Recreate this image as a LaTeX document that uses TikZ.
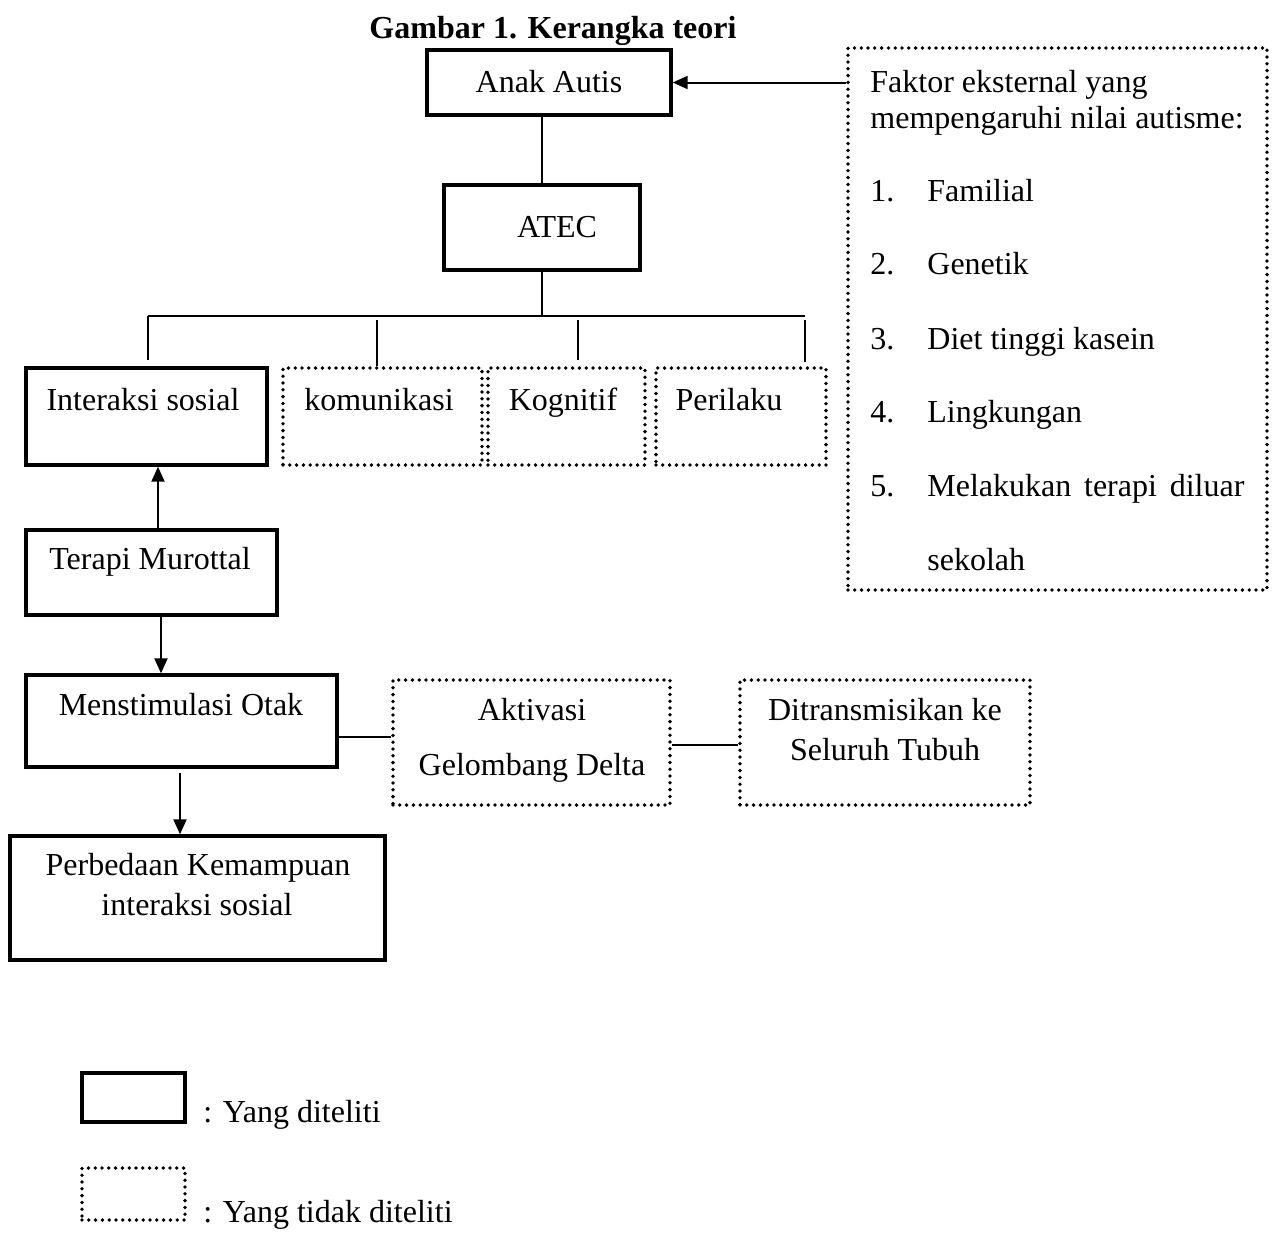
\documentclass[tikz,border=0pt]{standalone}
\usepackage{fontspec}
\setmainfont{Liberation Serif}
\usetikzlibrary{fit,arrows.meta}
\begin{document}
\begin{tikzpicture}[x=0.5pt,y=-0.5pt,
  solidbox/.style={draw, line width=1.7pt, inner sep=0pt},
  dotbox/.style={draw, line width=1.9pt, dash pattern=on 0pt off 3.4pt, line cap=round, inner sep=0pt},
  conn/.style={line width=1pt},
  arr/.style={conn, -{Triangle[length=7.5pt,width=6.5pt]}},
  txt/.style={anchor=base, inner sep=0pt, font=\fontsize{16}{19}\selectfont},
  lt/.style={txt, anchor=base west}]
\useasboundingbox (0,0) rectangle (1275,1233);

% boxes
\node[solidbox, fit={(427,50)(671,115)}] (anak) {};
\node[solidbox, fit={(444,185)(640,270)}] (atec) {};
\node[solidbox, fit={(26,368)(267,465)}] (inter) {};
\node[dotbox, fit={(283,368)(482,465)}] (kom) {};
\node[dotbox, fit={(488,368)(645,465)}] (kog) {};
\node[dotbox, fit={(656,368)(826,465)}] (peri) {};
\node[solidbox, fit={(26,530)(277,615)}] (terapi) {};
\node[solidbox, fit={(26,675)(337,767)}] (menstim) {};
\node[solidbox, fit={(10,836)(385,960)}] (beda) {};
\node[dotbox, fit={(393,680)(670,805)}] (aktiv) {};
\node[dotbox, fit={(740,680)(1030,805)}] (trans) {};
\node[dotbox, fit={(848,48)(1267,590)}] (faktor) {};
\node[solidbox, fit={(82,1073)(185,1122)}] (legA) {};
\node[dotbox, fit={(82,1168)(185,1220)}] (legB) {};

% texts
\node[txt, font=\fontsize{16}{19}\selectfont\bfseries] (title) at (553,38) {Gambar 1. Kerangka teori};
\node[txt] (tanak) at (549,92) {Anak Autis};
\node[txt] (tatec) at (557,237) {ATEC};
\node[txt] (tinter) at (143,410) {Interaksi sosial};
\node[txt] (tkom) at (379,410) {komunikasi};
\node[txt] (tkog) at (563,410) {Kognitif};
\node[txt] (tperi) at (729,410) {Perilaku};
\node[txt] (tterapi) at (150,569) {Terapi Murottal};
\node[txt] (tmenstim) at (181,715) {Menstimulasi Otak};
\node[txt] (tbeda1) at (198,875) {Perbedaan Kemampuan};
\node[txt] (tbeda2) at (197,915) {interaksi sosial};
\node[txt] (taktiv1) at (532,720) {Aktivasi};
\node[txt] (taktiv2) at (532,775) {Gelombang Delta};
\node[txt] (ttrans1) at (885,720) {Ditransmisikan ke};
\node[txt] (ttrans2) at (885,760) {Seluruh Tubuh};

\node[lt] (f1) at (870,92) {Faktor eksternal yang};
\node[lt] (f2) at (870,128) {mempengaruhi nilai autisme:};
\node[lt] (n1) at (870,201) {1.};
\node[lt] (i1) at (927,201) {Familial};
\node[lt] (n2) at (870,274) {2.};
\node[lt] (i2) at (927,274) {Genetik};
\node[lt] (n3) at (870,349) {3.};
\node[lt] (i3) at (927,349) {Diet tinggi kasein};
\node[lt] (n4) at (870,422) {4.};
\node[lt] (i4) at (927,422) {Lingkungan};
\node[lt] (n5) at (870,496) {5.};
\node[lt] (i5) at (927,496) {\makebox[158.5pt][s]{Melakukan terapi diluar}};
\node[lt] (i5b) at (927,570) {sekolah};

\node[lt] (leg1) at (203,1122) {: Yang diteliti};
\node[lt] (leg2) at (203,1222) {: Yang tidak diteliti};

% connectors
\draw[arr] (anak.east -| faktor.west) -- (anak.east);
\coordinate (xa) at (542,0);
\draw[conn] (anak.south -| xa) -- (atec.north -| xa);
\coordinate (hm) at (542,316);
\coordinate (hL) at (148,316);
\coordinate (hR) at (805,316);
\draw[conn] (atec.south -| hm) -- (hm);
\draw[conn] (hL) -- (hR);
\coordinate (d2) at (377,316);
\coordinate (d3) at (578,316);
\draw[conn, shorten >=3pt] (hL) -- (hL |- inter.north);
\draw[conn, shorten <=2pt] (d2) -- (d2 |- kom.north);
\draw[conn, shorten <=2pt, shorten >=3pt] (d3) -- (d3 |- kog.north);
\draw[conn, shorten <=2pt, shorten >=2pt] (hR) -- (hR |- peri.north);

\coordinate (x1) at (158,0);
\coordinate (x2) at (161,0);
\coordinate (x3) at (180,0);
\draw[arr] (terapi.north -| x1) -- (inter.south -| x1);
\draw[arr] (terapi.south -| x2) -- (menstim.north -| x2);
\draw[arr, shorten <=2pt] (menstim.south -| x3) -- (beda.north -| x3);

\coordinate (y1) at (0,737);
\coordinate (y2) at (0,745);
\draw[conn] (menstim.east |- y1) -- (aktiv.west |- y1);
\draw[conn] (aktiv.east |- y2) -- (trans.west |- y2);
\end{tikzpicture}
\end{document}
